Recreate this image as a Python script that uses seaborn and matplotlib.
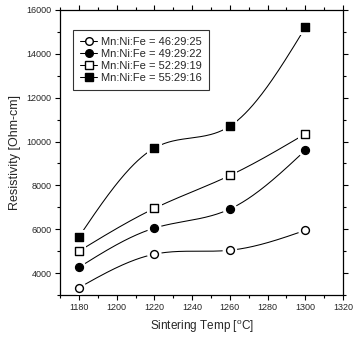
import numpy as np
import pandas as pd
import matplotlib
matplotlib.use("Agg")
import matplotlib.pyplot as plt
from matplotlib.lines import Line2D
from matplotlib.ticker import MultipleLocator
import seaborn as sns

# Sintering temperatures (°C) and measured resistivity (Ohm-cm) per composition
temps = [1180, 1220, 1260, 1300]
res_46_29_25 = [3330, 4860, 5040, 5950]
res_49_29_22 = [4260, 6050, 6920, 9600]
res_52_29_19 = [5000, 6950, 8450, 10350]
res_55_29_16 = [5650, 9700, 10700, 15200]

labels = ["Mn:Ni:Fe = 46:29:25", "Mn:Ni:Fe = 49:29:22",
          "Mn:Ni:Fe = 52:29:19", "Mn:Ni:Fe = 55:29:16"]
series = [res_46_29_25, res_49_29_22, res_52_29_19, res_55_29_16]
markers = ["o", "o", "s", "s"]
faces = ["white", "black", "white", "black"]

sns.set_theme(style="ticks")
plt.rcParams["font.family"] = ["Liberation Sans", "DejaVu Sans"]

fig = plt.figure(figsize=(3.53, 3.43), dpi=100)
ax = fig.add_axes([0.170, 0.140, 0.802, 0.831])


def smooth_curve(x, y, n=60):
    """Natural cubic spline through the points, for a smooth connecting line."""
    x = np.asarray(x, float)
    y = np.asarray(y, float)
    k = len(x)
    h = np.diff(x)
    A = np.zeros((k, k))
    b = np.zeros(k)
    A[0, 0] = A[-1, -1] = 1.0
    for i in range(1, k - 1):
        A[i, i - 1] = h[i - 1]
        A[i, i] = 2 * (h[i - 1] + h[i])
        A[i, i + 1] = h[i]
        b[i] = 6 * ((y[i + 1] - y[i]) / h[i] - (y[i] - y[i - 1]) / h[i - 1])
    m = np.linalg.solve(A, b)
    xs, ys = [], []
    for i in range(k - 1):
        t = np.linspace(x[i], x[i + 1], n)
        a = x[i + 1] - t
        c = t - x[i]
        s = (m[i] * a ** 3 + m[i + 1] * c ** 3) / (6 * h[i]) \
            + (y[i] / h[i] - m[i] * h[i] / 6) * a \
            + (y[i + 1] / h[i] - m[i + 1] * h[i] / 6) * c
        xs.extend(t)
        ys.extend(s)
    return np.array(xs), np.array(ys)


handles = []
for lab, vals, mk, fc in zip(labels, series, markers, faces):
    cx, cy = smooth_curve(temps, vals)
    curve = pd.DataFrame({"temp": cx, "res": cy})
    sns.lineplot(data=curve, x="temp", y="res", ax=ax, color="black",
                 linewidth=0.75, sort=False, estimator=None, zorder=2)
    pts = pd.DataFrame({"temp": temps, "res": vals})
    # white halo leaves a small gap between curve and marker
    sns.scatterplot(data=pts, x="temp", y="res", ax=ax, marker=mk,
                    s=110, color="white", edgecolor="none", linewidth=0, zorder=3)
    sns.scatterplot(data=pts, x="temp", y="res", ax=ax, marker=mk,
                    s=32, facecolor=fc, edgecolor="black", linewidth=1.0, zorder=4)
    handles.append(Line2D([], [], color="black", linewidth=0.75, marker=mk,
                          markersize=5.5, markerfacecolor=fc,
                          markeredgecolor="black", markeredgewidth=1.0,
                          label=lab))

ax.set_xlim(1170, 1320)
ax.set_ylim(3000, 16000)
ax.xaxis.set_major_locator(MultipleLocator(20))
ax.xaxis.set_minor_locator(MultipleLocator(10))
ax.yaxis.set_minor_locator(MultipleLocator(1000))
ax.set_yticks([4000, 6000, 8000, 10000, 12000, 14000, 16000])

ax.tick_params(which="both", top=True, right=True, labelsize=6.5,
               width=0.8, color="black", pad=2.5)
ax.tick_params(which="major", length=3.5)
ax.tick_params(which="minor", length=2)
for side in ax.spines.values():
    side.set_linewidth(0.9)
    side.set_color("black")

ax.set_xlabel("Sintering Temp [$^\\mathregular{o}$C]", fontsize=8.5, labelpad=4)
ax.set_ylabel("Resistivity [Ohm-cm]", fontsize=9, labelpad=4)

leg = ax.legend(handles=handles, loc="upper left",
                bbox_to_anchor=(0.046, 0.93), borderaxespad=0,
                fontsize=8, frameon=True,
                fancybox=False, edgecolor="black", handlelength=1.6,
                handletextpad=0.35, borderpad=0.6, labelspacing=0.2)
leg.get_frame().set_linewidth(0.8)

fig.savefig("out.png", dpi=100, facecolor="white")
